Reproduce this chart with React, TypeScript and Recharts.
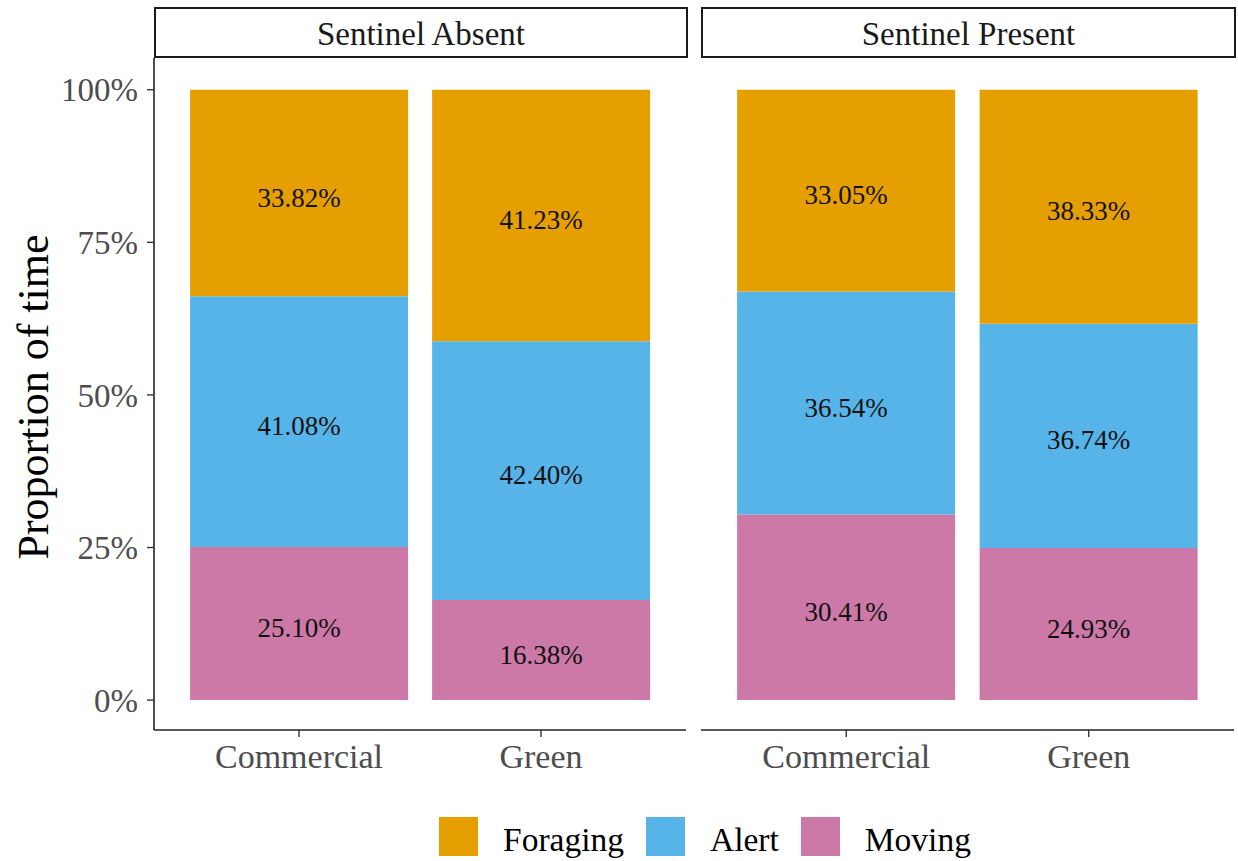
import { Bar, BarChart, LabelList, XAxis, YAxis } from "recharts";

const FONT = '"Liberation Serif", "Times New Roman", serif';

const sites = ["Commercial", "Green"];
const facetTitles = ["Sentinel Absent", "Sentinel Present"];

// stack order, bottom -> top
const behaviours = ["Moving", "Alert", "Foraging"];
const legendOrder = ["Foraging", "Alert", "Moving"];
const colours: Record<string, string> = {
  Foraging: "#E69F00",
  Alert: "#56B4E9",
  Moving: "#CC79A7",
};

const absentForaging = [33.82, 41.23];
const absentAlert = [41.08, 42.4];
const absentMoving = [25.1, 16.38];

const presentForaging = [33.05, 38.33];
const presentAlert = [36.54, 36.74];
const presentMoving = [30.41, 24.93];

const yTicks = [0, 25, 50, 75, 100];

const buildRows = (f: number[], a: number[], m: number[]) =>
  sites.map((site, i) => ({
    site,
    Foraging: f[i],
    Alert: a[i],
    Moving: m[i],
  }));

const absentRows = buildRows(absentForaging, absentAlert, absentMoving);
const presentRows = buildRows(presentForaging, presentAlert, presentMoving);

/**
 * one facet panel
 */
function Facet({
  data,
  title,
  left,
  plotWidth,
  showY,
}: {
  data: any[];
  title: string;
  left: number;
  plotWidth: number;
  showY: boolean;
}) {
  const yWidth = showY ? 154 : 0;
  const plotLeft = left + yWidth;

  return (
    <>
      {/* strip */}
      <div
        style={{
          position: "absolute",
          left: plotLeft,
          top: 7,
          width: plotWidth + 2,
          height: 51,
          boxSizing: "border-box",
          border: "2px solid #1a1a1a",
          background: "#fff",
          textAlign: "center",
          fontSize: 33,
          lineHeight: "44px",
          paddingTop: 3,
          color: "#1A1A1A",
          fontFamily: FONT,
        }}
      >
        {title}
      </div>

      <div style={{ position: "absolute", left, top: 0 }}>
        <BarChart
          width={yWidth + plotWidth + 4}
          height={800}
          data={data}
          margin={{ top: 58, right: 4, left: 0, bottom: 0 }}
          barCategoryGap="5%"
        >
          <XAxis
            dataKey="site"
            height={70}
            padding={{ left: 24, right: 24 }}
            axisLine={{ stroke: "#222", strokeWidth: 1.6 }}
            tickLine={{ stroke: "#333", strokeWidth: 1.4 }}
            tickSize={7}
            tickMargin={7}
            tick={{ fill: "#4D4D4D", fontSize: 34, fontFamily: FONT }}
          />
          <YAxis
            hide={!showY}
            width={yWidth}
            type="number"
            domain={[-4.9, 105.2]}
            allowDataOverflow
            ticks={yTicks}
            tickFormatter={(v) => `${v}%`}
            axisLine={{ stroke: "#222", strokeWidth: 1.6 }}
            tickLine={{ stroke: "#333", strokeWidth: 1.4 }}
            tickSize={7}
            tickMargin={9}
            tick={{ fill: "#4D4D4D", fontSize: 33, fontFamily: FONT }}
          />
          {behaviours.map((key) => (
            <Bar
              key={key}
              dataKey={key}
              stackId="time"
              fill={colours[key]}
              isAnimationActive={false}
            >
              <LabelList
                dataKey={key}
                position="center"
                formatter={(v: any) => `${Number(v).toFixed(2)}%`}
                fill="#111"
                fontSize={27}
                fontFamily={FONT}
                dy={4}
              />
            </Bar>
          ))}
        </BarChart>
      </div>
    </>
  );
}

export default function App() {
  return (
    <div
      style={{
        position: "absolute",
        left: 0,
        top: 0,
        width: 1238,
        height: 861,
        background: "#fff",
        fontFamily: FONT,
        overflow: "hidden",
      }}
    >
      <Facet
        data={absentRows}
        title={facetTitles[0]}
        left={0}
        plotWidth={532}
        showY
      />
      <Facet
        data={presentRows}
        title={facetTitles[1]}
        left={701}
        plotWidth={533}
        showY={false}
      />

      {/* y title */}
      <svg
        width={80}
        height={861}
        style={{ position: "absolute", left: 0, top: 0 }}
      >
        <text
          x={48}
          y={397}
          transform="rotate(-90 48 397)"
          textAnchor="middle"
          fontSize={44}
          fontFamily={FONT}
          fill="#000"
        >
          Proportion of time
        </text>
      </svg>

      {/* legend */}
      <div
        style={{
          position: "absolute",
          left: 439,
          top: 817,
          display: "flex",
          alignItems: "flex-start",
        }}
      >
        {legendOrder.map((key) => (
          <div key={key} style={{ display: "flex", alignItems: "flex-start" }}>
            <div
              style={{
                width: 39,
                height: 39,
                background: colours[key],
              }}
            />
            <span
              style={{
                marginLeft: 25,
                marginRight: 22,
                fontSize: 33.5,
                lineHeight: "45px",
                color: "#000",
                whiteSpace: "nowrap",
              }}
            >
              {key}
            </span>
          </div>
        ))}
      </div>
    </div>
  );
}
